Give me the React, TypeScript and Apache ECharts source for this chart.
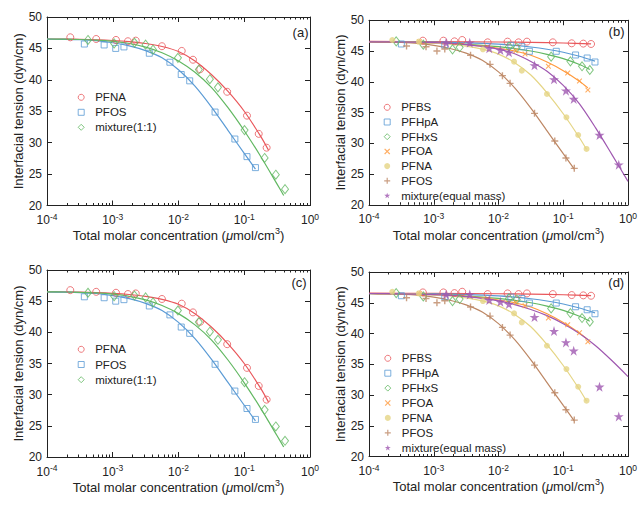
import React, { useEffect, useRef } from 'react';
import * as echarts from 'echarts';

// ---------------- texts ----------------
const Y_TITLE = 'Interfacial tension (dyn/cm)';
const X_TITLE = '{t|Total molar concentration (}{i|μ}{t|mol/cm}{s|3}{t|)}';
const PANEL_LABELS = ['(a)', '(b)', '(c)', '(d)'];
const LEGEND_AC = ['PFNA', 'PFOS', 'mixture(1:1)'];
const LEGEND_BD = ['PFBS', 'PFHpA', 'PFHxS', 'PFOA', 'PFNA', 'PFOS', 'mixture(equal mass)'];
const Y_MIN = 20;
const Y_MAX = 50;
const Y_STEP = 5;
const X_MIN = 1e-4;
const X_MAX = 1;

// ---------------- panels (a) and (c): measured points ----------------
const AC_PFNA_C = [2.26e-4, 5.6e-4, 1.12e-3, 1.7e-3, 2.24e-3, 5.6e-3, 1.12e-2, 1.66e-2, 2.14e-2, 5.5e-2, 0.11, 0.166, 0.219];
const AC_PFNA_T = [46.77, 46.5, 46.35, 46.14, 46.24, 45.35, 44.6, 43.2, 41.7, 38.1, 34.3, 31.4, 29.2];
const AC_PFOS_C = [3.7e-4, 7.4e-4, 1.11e-3, 1.48e-3, 3.6e-3, 7.4e-3, 1.1e-2, 1.48e-2, 3.6e-2, 7.2e-2, 0.11, 0.148];
const AC_PFOS_T = [45.7, 45.55, 45.0, 45.24, 44.23, 42.8, 40.85, 39.84, 34.87, 30.58, 27.78, 26.03];
const AC_MIX_C = [4.2e-4, 1.05e-3, 2.14e-3, 3.16e-3, 4.1e-3, 9.8e-3, 2.04e-2, 3.0e-2, 3.98e-2, 0.101, 0.204, 0.302, 0.417];
const AC_MIX_T = [46.35, 45.8, 45.9, 45.6, 44.8, 43.5, 41.64, 40.1, 38.8, 32.0, 27.57, 24.9, 22.6];

// fitted curves, every quarter decade
const AC_FIT_PFNA_C = [1e-4, 1.78e-4, 3.16e-4, 5.62e-4, 1e-3, 1.78e-3, 3.16e-3, 5.62e-3, 1e-2, 1.78e-2, 3.16e-2, 5.62e-2, 0.1, 0.178, 0.234];
const AC_FIT_PFNA_T = [46.5, 46.48, 46.45, 46.38, 46.26, 46.07, 45.78, 45.3, 44.5, 43.0, 40.85, 38.2, 35.0, 31.0, 28.8];
const AC_FIT_PFOS_C = [1e-4, 1.78e-4, 3.16e-4, 5.62e-4, 1e-3, 1.78e-3, 3.16e-3, 5.62e-3, 1e-2, 1.78e-2, 3.16e-2, 5.62e-2, 0.1, 0.148];
const AC_FIT_PFOS_T = [46.47, 46.44, 46.38, 46.23, 45.9, 45.4, 44.65, 43.5, 41.6, 39.0, 35.7, 32.0, 28.3, 25.8];
const AC_FIT_MIX_C = [1e-4, 1.78e-4, 3.16e-4, 5.62e-4, 1e-3, 1.78e-3, 3.16e-3, 5.62e-3, 1e-2, 1.78e-2, 3.16e-2, 5.62e-2, 0.1, 0.178, 0.316, 0.398];
const AC_FIT_MIX_T = [46.5, 46.47, 46.42, 46.32, 46.12, 45.78, 45.2, 44.3, 43.0, 41.2, 38.8, 35.6, 31.9, 27.8, 23.4, 21.6];

// ---------------- panels (b) and (d): measured points ----------------
const BD_PFBS_C = [6.8e-4, 1.41e-3, 2.09e-3, 2.75e-3, 6.8e-3, 1.38e-2, 2.04e-2, 2.75e-2, 6.9e-2, 0.135, 0.204, 0.269];
const BD_PFBS_T = [46.68, 46.68, 46.57, 46.79, 46.41, 46.52, 46.41, 46.52, 46.41, 46.25, 46.2, 46.14];
const BD_PFHPA_C = [3.16e-4, 1.48e-3, 1.55e-2, 2.29e-2, 3.0e-2, 7.8e-2, 0.155, 0.234, 0.309];
const BD_PFHPA_T = [46.14, 45.97, 45.92, 45.7, 44.95, 44.95, 44.35, 43.86, 43.21];
const BD_PFHXS_C = [2.63e-4, 6.9e-4, 1.95e-3, 2.51e-3, 1.45e-2, 1.91e-2, 6.5e-2, 0.129, 0.195, 0.257];
const BD_PFHXS_T = [46.57, 46.03, 45.27, 45.6, 45.7, 45.54, 44.08, 43.32, 42.51, 41.91];
const BD_PFOA_C = [6.0e-4, 1.86e-2, 2.57e-2, 5.9e-2, 0.117, 0.178, 0.24];
const BD_PFOA_T = [46.5, 45.06, 44.51, 42.51, 41.43, 40.13, 38.66];
const BD_PFNA_C = [2.29e-4, 5.9e-4, 5.75e-3, 1.74e-2, 2.29e-2, 5.6e-2, 0.112, 0.17, 0.229];
const BD_PFNA_T = [46.79, 46.52, 45.27, 43.27, 41.8, 38.01, 34.22, 31.34, 29.07];
const BD_PFOS_C = [3.8e-4, 7.6e-4, 1.12e-3, 1.48e-3, 3.7e-3, 7.4e-3, 1.15e-2, 1.51e-2, 3.6e-2, 7.4e-2, 0.11, 0.148];
const BD_PFOS_T = [45.81, 45.7, 45.0, 45.33, 44.3, 42.83, 40.99, 39.74, 34.86, 30.36, 27.6, 25.92];
const BD_MIX_C = [1.55e-3, 3.6e-3, 7.2e-3, 1.07e-2, 1.45e-2, 3.6e-2, 7.2e-2, 0.11, 0.145, 0.363, 0.72];
const BD_MIX_T = [46.35, 46.35, 45.43, 45.16, 44.78, 42.67, 40.39, 38.55, 37.2, 31.34, 26.52];

// fitted curves
const BD_FIT_PFBS_C = [1e-4, 1e-3, 1e-2, 3.16e-2, 0.1, 0.269];
const BD_FIT_PFBS_T = [46.55, 46.52, 46.46, 46.4, 46.3, 46.15];
const BD_FIT_PFHPA_C = [1e-4, 1.78e-4, 3.16e-4, 5.62e-4, 1e-3, 1.78e-3, 3.16e-3, 5.62e-3, 1e-2, 1.78e-2, 3.16e-2, 5.62e-2, 0.1, 0.178, 0.309];
const BD_FIT_PFHPA_T = [46.5, 46.49, 46.48, 46.46, 46.43, 46.39, 46.33, 46.24, 46.12, 45.92, 45.65, 45.28, 44.8, 44.15, 43.35];
const BD_FIT_PFHXS_C = [1e-4, 1.78e-4, 3.16e-4, 5.62e-4, 1e-3, 1.78e-3, 3.16e-3, 5.62e-3, 1e-2, 1.78e-2, 3.16e-2, 5.62e-2, 0.1, 0.178, 0.257];
const BD_FIT_PFHXS_T = [46.5, 46.48, 46.45, 46.4, 46.33, 46.23, 46.1, 45.93, 45.7, 45.4, 45.0, 44.45, 43.75, 42.8, 42.0];
const BD_FIT_PFOA_C = [1e-4, 1.78e-4, 3.16e-4, 5.62e-4, 1e-3, 1.78e-3, 3.16e-3, 5.62e-3, 1e-2, 1.78e-2, 3.16e-2, 5.62e-2, 0.1, 0.178, 0.24];
const BD_FIT_PFOA_T = [46.5, 46.48, 46.45, 46.4, 46.32, 46.2, 46.03, 45.78, 45.45, 45.0, 44.3, 43.2, 41.8, 40.1, 39.0];
const BD_FIT_PFNA_C = [1e-4, 1.78e-4, 3.16e-4, 5.62e-4, 1e-3, 1.78e-3, 3.16e-3, 5.62e-3, 1e-2, 1.78e-2, 3.16e-2, 5.62e-2, 0.1, 0.178, 0.229];
const BD_FIT_PFNA_T = [46.5, 46.48, 46.45, 46.39, 46.28, 46.1, 45.8, 45.3, 44.5, 43.1, 41.1, 38.2, 34.8, 30.9, 29.0];
const BD_FIT_PFOS_C = [1e-4, 1.78e-4, 3.16e-4, 5.62e-4, 1e-3, 1.78e-3, 3.16e-3, 5.62e-3, 1e-2, 1.78e-2, 3.16e-2, 5.62e-2, 0.1, 0.148];
const BD_FIT_PFOS_T = [46.47, 46.44, 46.38, 46.23, 45.9, 45.4, 44.65, 43.5, 41.6, 39.0, 35.7, 32.0, 28.3, 25.8];
const B_FIT_MIX_C = [1e-4, 1.78e-4, 3.16e-4, 5.62e-4, 1e-3, 1.78e-3, 3.16e-3, 5.62e-3, 1e-2, 1.78e-2, 3.16e-2, 5.62e-2, 0.1, 0.178, 0.316, 0.562, 1];
const B_FIT_MIX_T = [46.5, 46.49, 46.47, 46.43, 46.36, 46.24, 46.05, 45.75, 45.3, 44.55, 43.3, 41.7, 39.4, 36.4, 32.5, 28.2, 23.8];
const D_FIT_MIX_C = [1e-4, 3.16e-4, 1e-3, 1.78e-3, 3.16e-3, 5.62e-3, 1e-2, 1.78e-2, 3.16e-2, 5.62e-2, 0.1, 0.178, 0.316, 0.562, 1];
const D_FIT_MIX_T = [46.5, 46.45, 46.33, 46.2, 46.0, 45.7, 45.3, 44.7, 43.9, 42.9, 41.6, 40.0, 38.0, 35.6, 33.0];

// ---------------- styling ----------------
const FONT = "'Liberation Sans', Arial, Helvetica, sans-serif";
const INK = '#222';
const COL = {
  red: '#e9575b',
  blue: '#5b9bd5',
  green: '#62b862',
  orange: '#ff9a3d',
  yellow: '#e5d585',
  brown: '#bd8764',
  purple: '#9f58b0',
};
const SYM_PLUS = 'path://M4,0H6V4H10V6H6V10H4V6H0V4H4Z';
const SYM_X = 'path://M1.4,0L5,3.6L8.6,0L10,1.4L6.4,5L10,8.6L8.6,10L5,6.4L1.4,10L0,8.6L3.6,5L0,1.4Z';
const SYM_STAR = 'path://M50,0L61.2,34.5L97.6,34.5L68.2,55.9L79.4,90.5L50,69.1L20.6,90.5L31.8,55.9L2.4,34.5L38.8,34.5Z';

const GRIDS = [
  { left: 47, top: 17, width: 263, height: 188.5 },
  { left: 369, top: 20.25, width: 259, height: 184.5 },
  { left: 47, top: 270, width: 263, height: 187 },
  { left: 369, top: 272, width: 259, height: 184.5 },
];
const LEG_ICON = 6;
const LEGEND_POS = [
  { cx: 80.7, top: 90.3, gap: 1 },
  { cx: 386.7, top: 100.3, gap: 0.7 },
  { cx: 80.7, top: 342.3, gap: 1.2 },
  { cx: 387.3, top: 351.3, gap: 0.9 },
];
const LABEL_POS = [
  { x: 308.5, y: 32 },
  { x: 624.5, y: 31.5 },
  { x: 306.7, y: 282.5 },
  { x: 624.2, y: 282.5 },
];

const MINOR: number[] = [];
for (let n = -4; n < 0; n++) for (let k = 2; k <= 9; k++) MINOR.push(n + Math.log10(k));
const MAJOR = [-4, -3, -2, -1, 0];

const pairs = (xs: number[], ys: number[]) => xs.map((x, i) => [x, ys[i]]);

function scatter(name: string, gi: number, xs: number[], ys: number[], color: string, symbol: string, size: any, hollow: boolean) {
  return {
    type: 'scatter',
    name,
    xAxisIndex: gi * 4,
    yAxisIndex: gi * 2,
    data: pairs(xs, ys),
    symbol,
    symbolSize: size,
    itemStyle: hollow
      ? { color: 'rgba(255,255,255,0)', borderColor: color, borderWidth: 1 }
      : { color },
    emphasis: { disabled: true },
    z: 3,
  };
}

function fit(name: string, gi: number, xs: number[], ys: number[], color: string) {
  return {
    type: 'line',
    name,
    xAxisIndex: gi * 4,
    yAxisIndex: gi * 2,
    data: pairs(xs, ys),
    smooth: 0.3,
    showSymbol: false,
    symbol: 'none',
    lineStyle: { color, width: 1.2 },
    emphasis: { disabled: true },
    z: 2,
  };
}

function buildOption() {
  const grid: any[] = [];
  const xAxis: any[] = [];
  const yAxis: any[] = [];
  const legend: any[] = [];
  const series: any[] = [];
  const graphic: any[] = [];

  const tickStyle = { color: INK, width: 1 };

  GRIDS.forEach((g, gi) => {
    grid.push({ ...g, containLabel: false, outerBoundsMode: 'none' });
    xAxis.push({
      type: 'log',
      logBase: 10,
      gridIndex: gi,
      min: X_MIN,
      max: X_MAX,
      position: 'bottom',
      axisLine: { show: true, onZero: false, lineStyle: tickStyle },
      axisTick: { show: true, inside: true, length: 5, lineStyle: tickStyle },
      splitLine: { show: false },
      axisLabel: {
        show: true,
        margin: 6.5,
        showMinLabel: true,
        showMaxLabel: true,
        formatter: (v: number) => `{b|10}{s|${Math.round(Math.log10(v))}}`,
        rich: {
          b: { fontSize: 12, lineHeight: 16, fontFamily: FONT, color: INK },
          s: { fontSize: 8.5, lineHeight: 10, verticalAlign: 'top', fontFamily: FONT, color: INK },
        },
      },
      name: X_TITLE,
      nameLocation: 'middle',
      nameGap: 21,
      nameTextStyle: {
        fontFamily: FONT,
        color: INK,
        rich: {
          t: { fontSize: 13, lineHeight: 18, fontFamily: FONT, color: INK },
          i: { fontSize: 13, lineHeight: 18, fontStyle: 'italic', fontFamily: FONT, color: INK },
          s: { fontSize: 9, lineHeight: 11, verticalAlign: 'top', fontFamily: FONT, color: INK },
        },
      },
    });
    xAxis.push({
      type: 'value', gridIndex: gi, min: -4, max: 0, position: 'bottom',
      axisLine: { show: false, onZero: false },
      axisLabel: { show: false },
      splitLine: { show: false },
      axisTick: { show: true, inside: true, length: 2.5, customValues: MINOR, lineStyle: tickStyle },
    });
    xAxis.push({
      type: 'value', gridIndex: gi, min: -4, max: 0, position: 'top',
      axisLine: { show: true, onZero: false, lineStyle: tickStyle },
      axisLabel: { show: false },
      splitLine: { show: false },
      axisTick: { show: true, inside: true, length: 5, customValues: MAJOR, lineStyle: tickStyle },
    });
    xAxis.push({
      type: 'value', gridIndex: gi, min: -4, max: 0, position: 'top',
      axisLine: { show: false, onZero: false },
      axisLabel: { show: false },
      splitLine: { show: false },
      axisTick: { show: true, inside: true, length: 2.5, customValues: MINOR, lineStyle: tickStyle },
    });
    yAxis.push({
      type: 'value', gridIndex: gi, min: Y_MIN, max: Y_MAX, interval: Y_STEP, position: 'left',
      axisLine: { show: true, onZero: false, lineStyle: tickStyle },
      axisTick: { show: true, inside: true, length: 5, lineStyle: tickStyle },
      splitLine: { show: false },
      axisLabel: { show: true, margin: 5, fontSize: 12, fontFamily: FONT, color: INK, showMinLabel: true, showMaxLabel: true },
      name: Y_TITLE,
      nameLocation: 'middle',
      nameGap: 22,
      nameRotate: 90,
      nameTextStyle: { fontSize: 13, fontFamily: FONT, color: INK },
    });
    yAxis.push({
      type: 'value', gridIndex: gi, min: Y_MIN, max: Y_MAX, interval: Y_STEP, position: 'right',
      axisLine: { show: true, onZero: false, lineStyle: tickStyle },
      axisTick: { show: true, inside: true, length: 5, lineStyle: tickStyle },
      splitLine: { show: false },
      axisLabel: { show: false },
    });

    const tag = ['a', 'b', 'c', 'd'][gi];
    const isAC = gi === 0 || gi === 2;
    const names = (isAC ? LEGEND_AC : LEGEND_BD).map((n) => `${n}#${tag}`);
    if (isAC) {
      series.push(fit(`fitPFNA#${tag}`, gi, AC_FIT_PFNA_C, AC_FIT_PFNA_T, COL.red));
      series.push(fit(`fitPFOS#${tag}`, gi, AC_FIT_PFOS_C, AC_FIT_PFOS_T, COL.blue));
      series.push(fit(`fitMIX#${tag}`, gi, AC_FIT_MIX_C, AC_FIT_MIX_T, COL.green));
      series.push(scatter(names[0], gi, AC_PFNA_C, AC_PFNA_T, COL.red, 'circle', 7, true));
      series.push(scatter(names[1], gi, AC_PFOS_C, AC_PFOS_T, COL.blue, 'rect', 6, true));
      series.push(scatter(names[2], gi, AC_MIX_C, AC_MIX_T, COL.green, 'diamond', [7, 9], true));
    } else {
      series.push(fit(`fitPFBS#${tag}`, gi, BD_FIT_PFBS_C, BD_FIT_PFBS_T, COL.red));
      series.push(fit(`fitPFHpA#${tag}`, gi, BD_FIT_PFHPA_C, BD_FIT_PFHPA_T, COL.blue));
      series.push(fit(`fitPFHxS#${tag}`, gi, BD_FIT_PFHXS_C, BD_FIT_PFHXS_T, COL.green));
      series.push(fit(`fitPFOA#${tag}`, gi, BD_FIT_PFOA_C, BD_FIT_PFOA_T, COL.orange));
      series.push(fit(`fitPFNA#${tag}`, gi, BD_FIT_PFNA_C, BD_FIT_PFNA_T, COL.yellow));
      series.push(fit(`fitPFOS#${tag}`, gi, BD_FIT_PFOS_C, BD_FIT_PFOS_T, COL.brown));
      if (gi === 1) series.push(fit(`fitMIX#${tag}`, gi, B_FIT_MIX_C, B_FIT_MIX_T, COL.purple));
      else series.push(fit(`fitMIX#${tag}`, gi, D_FIT_MIX_C, D_FIT_MIX_T, COL.purple));
      series.push(scatter(names[0], gi, BD_PFBS_C, BD_PFBS_T, COL.red, 'circle', 7, true));
      series.push(scatter(names[1], gi, BD_PFHPA_C, BD_PFHPA_T, COL.blue, 'rect', 6, true));
      series.push(scatter(names[2], gi, BD_PFHXS_C, BD_PFHXS_T, COL.green, 'diamond', [7, 9], true));
      series.push(scatter(names[3], gi, BD_PFOA_C, BD_PFOA_T, COL.orange, SYM_X, 5.5, false));
      series.push(scatter(names[4], gi, BD_PFNA_C, BD_PFNA_T, COL.yellow, 'circle', 6, false));
      series.push(scatter(names[5], gi, BD_PFOS_C, BD_PFOS_T, COL.brown, SYM_PLUS, 7, false));
      series.push(scatter(names[6], gi, BD_MIX_C, BD_MIX_T, COL.purple, SYM_STAR, 10, false));
    }

    const lp = LEGEND_POS[gi];
    legend.push({
      show: true,
      orient: 'vertical',
      left: lp.cx - LEG_ICON / 2,
      top: lp.top,
      padding: 0,
      itemWidth: LEG_ICON,
      itemHeight: LEG_ICON,
      itemGap: lp.gap,
      selectedMode: false,
      symbolKeepAspect: true,
      itemStyle: { borderWidth: 1 },
      textStyle: {
        fontSize: 11.5,
        lineHeight: 14,
        fontFamily: FONT,
        color: INK,
        padding: [0, 0, 0, 14 - LEG_ICON / 2 - 5],
      },
      formatter: (n: string) => n.split('#')[0],
      data: names,
    });

    const lab = LABEL_POS[gi];
    graphic.push({
      type: 'text',
      x: lab.x,
      y: lab.y,
      silent: true,
      style: {
        text: PANEL_LABELS[gi],
        fontSize: 13,
        fontFamily: FONT,
        fill: INK,
        align: 'right',
        verticalAlign: 'middle',
      },
    });
  });

  return {
    animation: false,
    backgroundColor: '#ffffff',
    textStyle: { fontFamily: FONT },
    tooltip: { show: false },
    grid,
    xAxis,
    yAxis,
    legend,
    series,
    graphic,
  };
}

export default function App() {
  const ref = useRef<HTMLDivElement>(null);
  useEffect(() => {
    if (!ref.current) return;
    const chart = echarts.init(ref.current, undefined, { renderer: 'svg' });
    chart.setOption(buildOption() as any);
    return () => chart.dispose();
  }, []);
  return (
    <div
      ref={ref}
      style={{ position: 'absolute', left: 0, top: 0, width: 640, height: 505, background: '#fff' }}
    />
  );
}
